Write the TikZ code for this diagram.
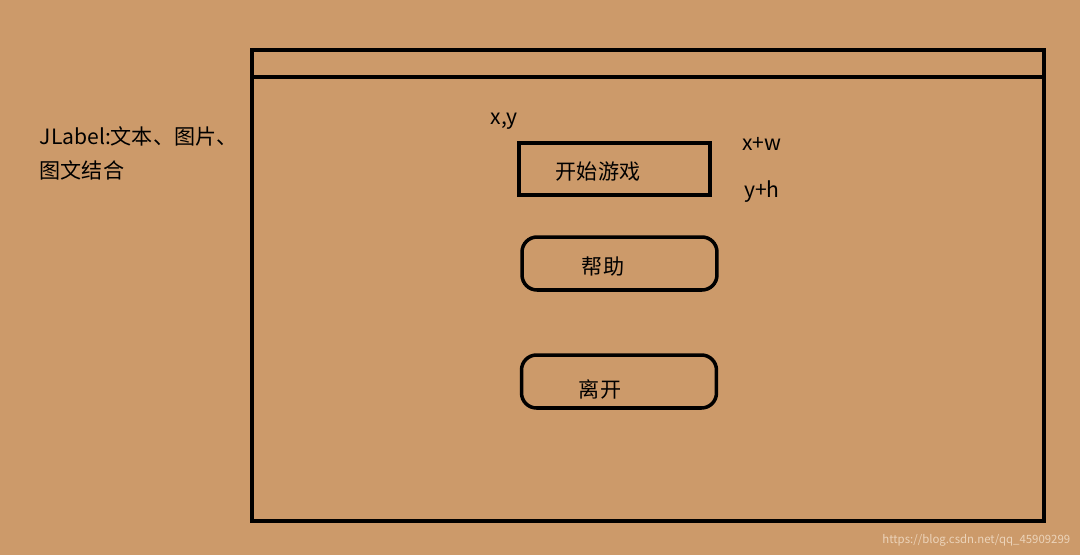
\documentclass[tikz,border=0pt]{standalone}
\usepackage{fontspec}
\setmainfont{Noto Sans CJK SC}
\usetikzlibrary{positioning}
\definecolor{paper}{RGB}{204,154,106}
\definecolor{mark}{RGB}{236,212,186}

\begin{document}
\begin{tikzpicture}[x=0.02cm,y=-0.02cm,line width=2pt,
      btn/.style={draw,minimum width=3.82cm,minimum height=1.04cm,inner sep=0pt},
      roundbtn/.style={btn,minimum width=3.9cm,minimum height=1.06cm,rounded corners=0.3cm},
      lbl/.style={font=\fontsize{12}{16}\selectfont,inner sep=0pt}]
      \fill[paper] (0,0) rectangle (1080,555);
      \useasboundingbox (0,0) rectangle (1080,555);
      % window frame
      \draw (252,50) rectangle (1044,521);
      \draw (252,77) -- (1044,77);
      % buttons
      \node[btn]      (start) at (614.5,169) {};
      \node[roundbtn] (help)  at (619.5,263.5) {};
      \node[roundbtn] (leave) at (619,381.5) {};
      \node[lbl] (startText) at (598,172) {开始游戏};
      \node[lbl] (helpText)  at (603,267) {帮助};
      \node[lbl] (leaveText) at (600,389) {离开};
      % coordinates
      \node[lbl] (xy) at (504,121) {x,y};
      \node[lbl] (xw) at (762,144) {x+w};
      \node[lbl] (yh) at (762,192) {y+h};
      % left note
      \node[lbl,anchor=west] (note1) at (38,136) {JLabel:文本、图片、};
      \node[lbl,anchor=west] (note2) at (38,170) {图文结合};
      \node[font=\fontsize{6.5}{8}\selectfont,text=mark,anchor=east,inner sep=0pt] (url) at (1072,540) {https://blog.csdn.net/qq\_45909299};
    \end{tikzpicture}
\end{document}
